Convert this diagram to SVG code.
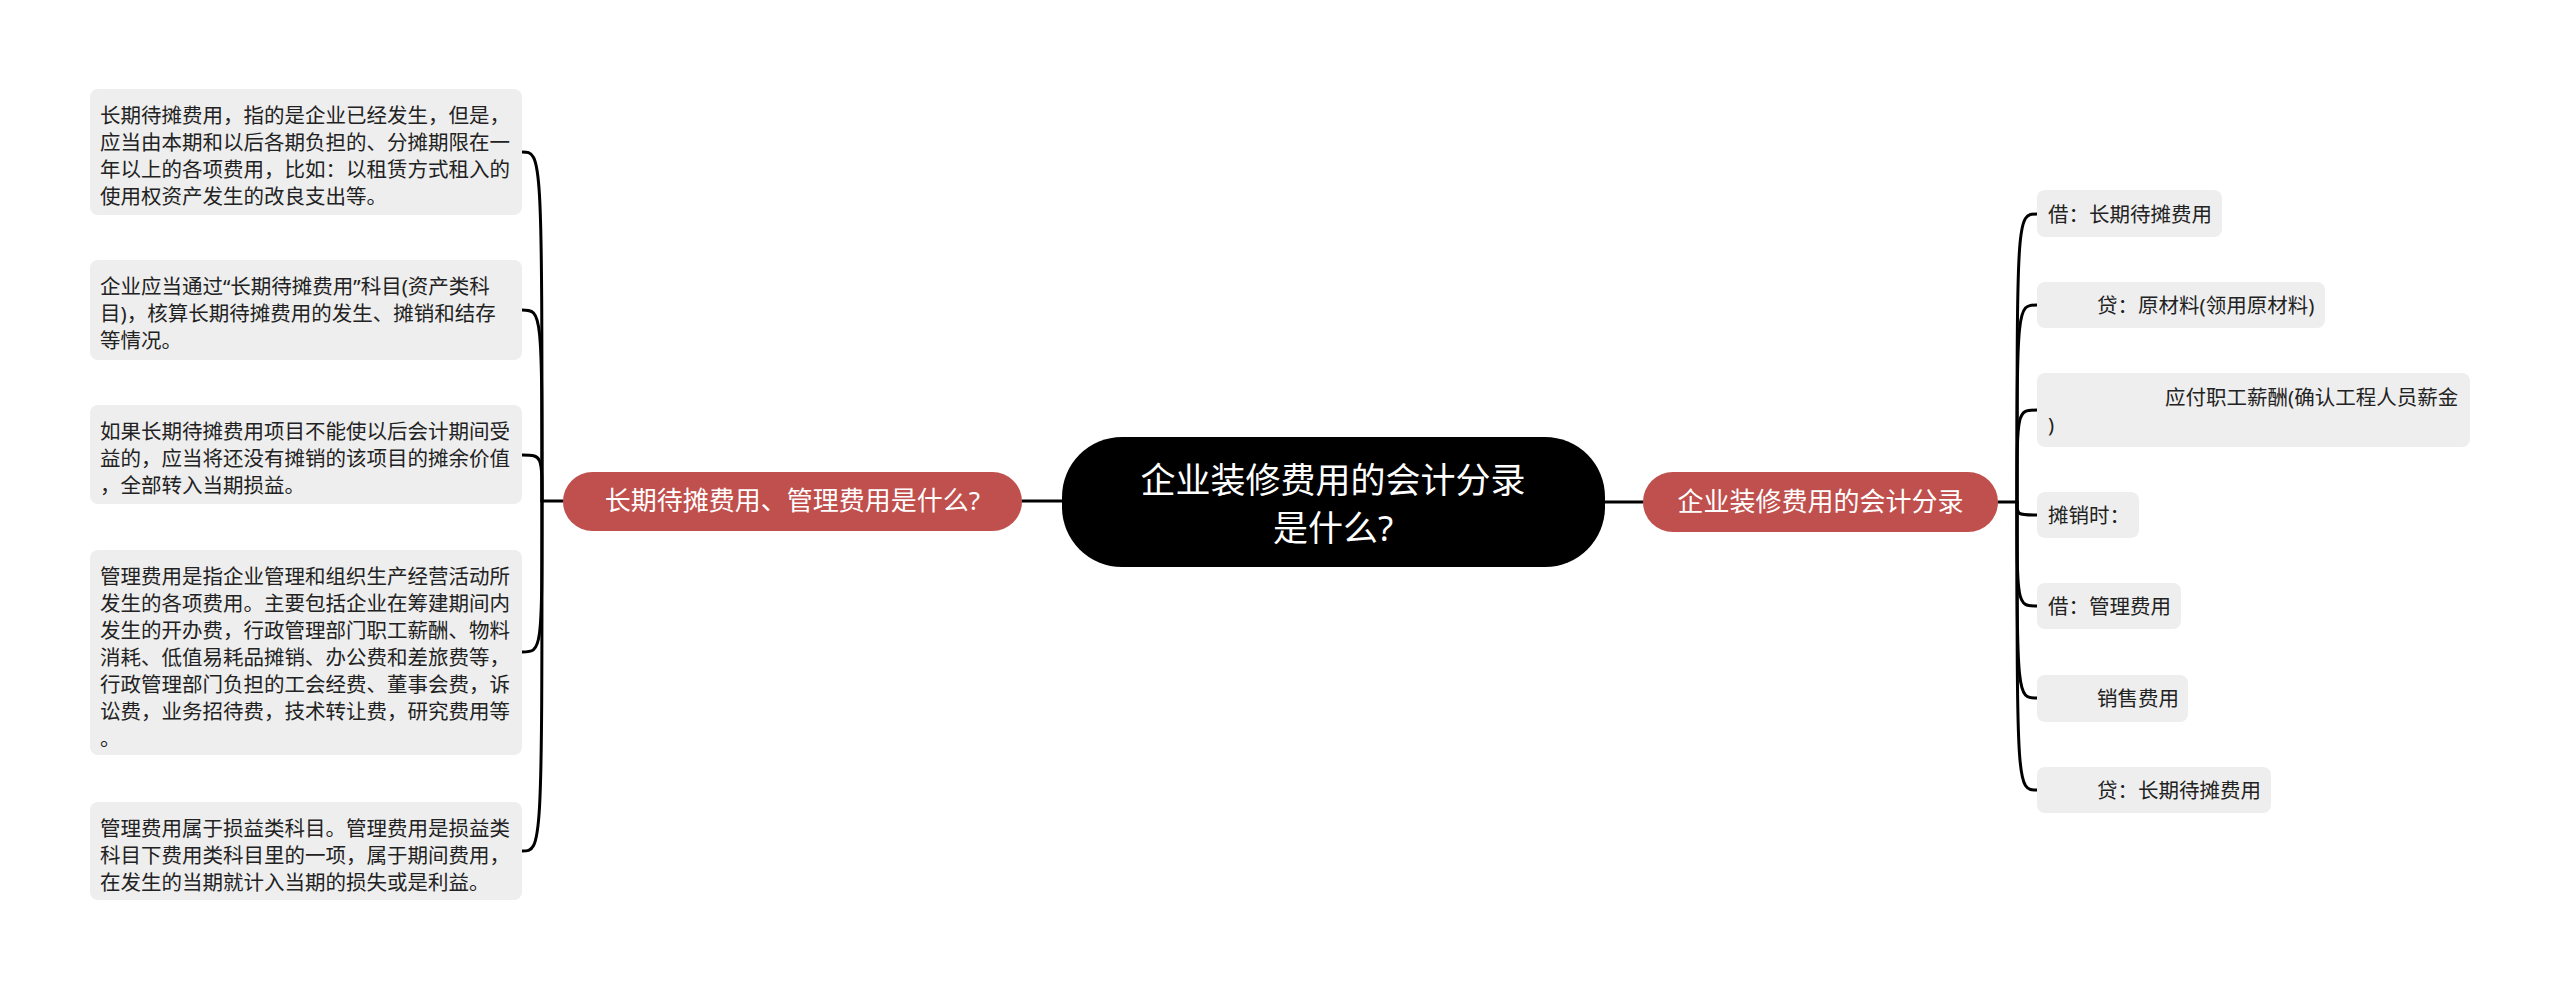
<svg xmlns="http://www.w3.org/2000/svg" width="2560" height="990" viewBox="0 0 2560 990">
<style>
.leaf{fill:#EEEEEE;}
.lt{font-family:"Noto Sans","Noto Sans CJK SC",sans-serif;font-size:20.5px;fill:#222222;}
.br{fill:#C0504D;}
.bt{font-family:"Noto Sans","Noto Sans CJK SC",sans-serif;font-size:26px;fill:#FFFFFF;text-anchor:middle;}
.rt{font-family:"Noto Sans","Noto Sans CJK SC",sans-serif;font-size:35px;fill:#FFFFFF;text-anchor:middle;}
.ln{fill:none;stroke:#000000;stroke-width:3;stroke-linecap:round;}
</style>
<rect width="2560" height="990" fill="#FFFFFF"/>
<g id="connectors">
<path class="ln" d="M1063 501 L1022 501"/>
<path class="ln" d="M1605 502 L1643 502"/>
<path class="ln" d="M563 501 L542 501"/>
<path class="ln" d="M542 501 C542 152 542 152 522 152"/>
<path class="ln" d="M542 501 C542 310 542 310 522 310"/>
<path class="ln" d="M542 501 C542 455 542 455 522 455"/>
<path class="ln" d="M542 501 C542 652 542 652 522 652"/>
<path class="ln" d="M542 501 C542 851 542 851 522 851"/>
<path class="ln" d="M1998 502 L2017 502"/>
<path class="ln" d="M2017 502 C2017 214 2017 214 2037 214"/>
<path class="ln" d="M2017 502 C2017 305 2017 305 2037 305"/>
<path class="ln" d="M2017 502 C2017 410 2017 410 2037 410"/>
<path class="ln" d="M2017 502 C2017 515 2017 515 2037 515"/>
<path class="ln" d="M2017 502 C2017 606 2017 606 2037 606"/>
<path class="ln" d="M2017 502 C2017 698 2017 698 2037 698"/>
<path class="ln" d="M2017 502 C2017 790 2017 790 2037 790"/>
</g>
<g id="root">
<rect x="1062" y="437" width="543" height="130" rx="60" fill="#000000"/>
<text class="rt" x="1333" y="493">企业装修费用的会计分录</text>
<text class="rt" x="1333" y="541">是什么?</text>
</g>
<g id="branch-left">
<rect class="br" x="563" y="472" width="459" height="59" rx="29.5"/>
<text class="bt" x="792.5" y="510">长期待摊费用、管理费用是什么?</text>
</g>
<g id="branch-right">
<rect class="br" x="1643" y="472" width="355" height="60" rx="30"/>
<text class="bt" x="1820.5" y="511">企业装修费用的会计分录</text>
</g>
<g id="leaf-l1">
<rect class="leaf" x="90" y="89" width="432" height="126" rx="8"/>
<text class="lt" x="100" y="123">长期待摊费用，指的是企业已经发生，但是，</text>
<text class="lt" x="100" y="150">应当由本期和以后各期负担的、分摊期限在一</text>
<text class="lt" x="100" y="177">年以上的各项费用，比如：以租赁方式租入的</text>
<text class="lt" x="100" y="204">使用权资产发生的改良支出等。</text>
</g>
<g id="leaf-l2">
<rect class="leaf" x="90" y="260" width="432" height="100" rx="8"/>
<text class="lt" x="100" y="294">企业应当通过“长期待摊费用”科目(资产类科</text>
<text class="lt" x="100" y="321">目)，核算长期待摊费用的发生、摊销和结存</text>
<text class="lt" x="100" y="348">等情况。</text>
</g>
<g id="leaf-l3">
<rect class="leaf" x="90" y="405" width="432" height="99" rx="8"/>
<text class="lt" x="100" y="439">如果长期待摊费用项目不能使以后会计期间受</text>
<text class="lt" x="100" y="466">益的，应当将还没有摊销的该项目的摊余价值</text>
<text class="lt" x="100" y="493">，全部转入当期损益。</text>
</g>
<g id="leaf-l4">
<rect class="leaf" x="90" y="550" width="432" height="205" rx="8"/>
<text class="lt" x="100" y="584">管理费用是指企业管理和组织生产经营活动所</text>
<text class="lt" x="100" y="611">发生的各项费用。主要包括企业在筹建期间内</text>
<text class="lt" x="100" y="638">发生的开办费，行政管理部门职工薪酬、物料</text>
<text class="lt" x="100" y="665">消耗、低值易耗品摊销、办公费和差旅费等，</text>
<text class="lt" x="100" y="692">行政管理部门负担的工会经费、董事会费，诉</text>
<text class="lt" x="100" y="719">讼费，业务招待费，技术转让费，研究费用等</text>
<text class="lt" x="100" y="746">。</text>
</g>
<g id="leaf-l5">
<rect class="leaf" x="90" y="802" width="432" height="98" rx="8"/>
<text class="lt" x="100" y="836">管理费用属于损益类科目。管理费用是损益类</text>
<text class="lt" x="100" y="863">科目下费用类科目里的一项，属于期间费用，</text>
<text class="lt" x="100" y="890">在发生的当期就计入当期的损失或是利益。</text>
</g>
<g id="leaf-r1">
<rect class="leaf" x="2037" y="190" width="185" height="47" rx="8"/>
<text class="lt" x="2048" y="222">借：长期待摊费用</text>
</g>
<g id="leaf-r2">
<rect class="leaf" x="2037" y="282" width="288" height="46" rx="8"/>
<text class="lt" x="2097" y="313">贷：原材料(领用原材料)</text>
</g>
<g id="leaf-r3">
<rect class="leaf" x="2037" y="373" width="433" height="74" rx="8"/>
<text class="lt" x="2165" y="405">应付职工薪酬(确认工程人员薪金</text>
<text class="lt" x="2048" y="432">)</text>
</g>
<g id="leaf-r4">
<rect class="leaf" x="2037" y="492" width="102" height="46" rx="8"/>
<text class="lt" x="2048" y="523">摊销时：</text>
</g>
<g id="leaf-r5">
<rect class="leaf" x="2037" y="583" width="144" height="46" rx="8"/>
<text class="lt" x="2048" y="614">借：管理费用</text>
</g>
<g id="leaf-r6">
<rect class="leaf" x="2037" y="675" width="151" height="47" rx="8"/>
<text class="lt" x="2097" y="706">销售费用</text>
</g>
<g id="leaf-r7">
<rect class="leaf" x="2037" y="767" width="234" height="46" rx="8"/>
<text class="lt" x="2097" y="798">贷：长期待摊费用</text>
</g>
</svg>
